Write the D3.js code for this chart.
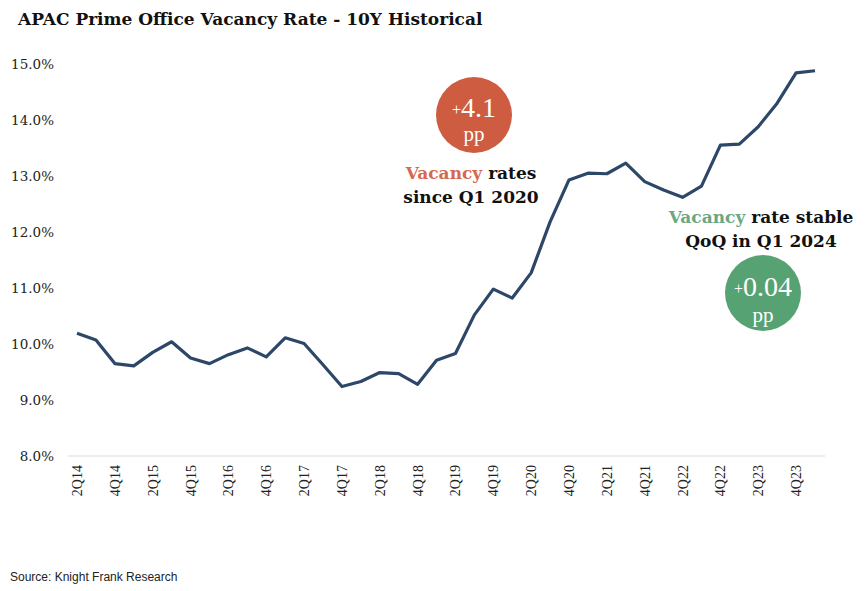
<!DOCTYPE html>
<html>
<head>
<meta charset="utf-8">
<script src="https://cdn.jsdelivr.net/npm/d3@7"></script>
<style>
body{margin:0;background:#fff;}
</style>
</head>
<body>
<div id="chart"></div>
<script>
// quarters from 2Q14 to 1Q24
var quarters = ["2Q14","3Q14","4Q14","1Q15","2Q15","3Q15","4Q15","1Q16","2Q16","3Q16","4Q16",
	"1Q17","2Q17","3Q17","4Q17","1Q18","2Q18","3Q18","4Q18","1Q19","2Q19","3Q19","4Q19",
	"1Q20","2Q20","3Q20","4Q20","1Q21","2Q21","3Q21","4Q21","1Q22","2Q22","3Q22","4Q22",
	"1Q23","2Q23","3Q23","4Q23","1Q24"];
var vacancy = [10.19,10.07,9.65,9.61,9.85,10.04,9.75,9.65,9.81,9.93,9.77,
	10.11,10.01,9.63,9.24,9.33,9.49,9.47,9.28,9.71,9.83,10.52,10.98,
	10.82,11.27,12.18,12.93,13.05,13.04,13.23,12.90,12.75,12.62,12.82,13.55,
	13.57,13.88,14.30,14.84,14.88];
var yTicks = [8,9,10,11,12,13,14,15];

var W = 867, H = 591;
var svg = d3.select("#chart").append("svg")
	.attr("width", W)
	.attr("height", H);

var x = d3.scalePoint().domain(quarters).range([77, 815]);
var y = d3.scaleLinear().domain([8, 15]).range([456, 64]);

var serif = "'Liberation Serif', 'DejaVu Serif', serif";
var wide = "'DejaVu Serif', 'Liberation Serif', serif"; // closer to Georgia width

// title
svg.append("text")
	.attr("x", 18).attr("y", 25)
	.attr("font-family", wide)
	.attr("font-weight", "bold")
	.attr("font-size", 17)
	.attr("fill", "#111")
	.text("APAC Prime Office Vacancy Rate - 10Y Historical");

// y axis labels
svg.selectAll(".ylab")
	.data(yTicks)
	.enter().append("text")
	.attr("x", 54)
	.attr("y", function(d){ return y(d); })
	.attr("dy", "0.35em")
	.attr("text-anchor", "end")
	.attr("font-family", wide)
	.attr("font-size", 13.5)
	.attr("fill", "#222")
	.text(function(d){ return d.toFixed(1) + "%"; });

// baseline
svg.append("line")
	.attr("x1", 68).attr("x2", 825)
	.attr("y1", y(8)).attr("y2", y(8))
	.attr("stroke", "#d9d9d9").attr("stroke-width", 1);

// x labels, every other quarter
var xl = quarters.filter(function(d, i){ return i % 2 == 0; });
svg.selectAll(".xlab")
	.data(xl)
	.enter().append("text")
	.attr("transform", function(d){ return "translate(" + (x(d) + 5) + ",465) rotate(-90)"; })
	.attr("text-anchor", "end")
	.attr("font-family", serif)
	.attr("font-size", 14)
	.attr("fill", "#222")
	.text(function(d){ return d; });

// the line
var line = d3.line()
	.x(function(d, i){ return x(quarters[i]); })
	.y(function(d){ return y(d); });

svg.append("path")
	.datum(vacancy)
	.attr("d", line)
	.attr("fill", "none")
	.attr("stroke", "#2d4768")
	.attr("stroke-width", 3.2)
	.attr("stroke-linejoin", "round");

// annotation bubbles
function bubble(cx, cy, col, big, numY, ppY){
	svg.append("circle")
		.attr("cx", cx).attr("cy", cy).attr("r", 38)
		.attr("fill", col);
	var t = svg.append("text")
		.attr("x", cx).attr("y", cy + numY)
		.attr("text-anchor", "middle")
		.attr("font-family", serif)
		.attr("fill", "#fff");
	t.append("tspan").attr("font-size", 16).attr("dy", "-0.15em").text("+");
	t.append("tspan").attr("font-size", 28).attr("dy", "0.08em").text(big);
	svg.append("text")
		.attr("x", cx).attr("y", cy + ppY)
		.attr("text-anchor", "middle")
		.attr("font-family", serif)
		.attr("font-size", 21)
		.attr("fill", "#fff")
		.text("pp");
}

bubble(474, 115, "#cd5c40", "4.1", 2, 26);
bubble(763, 293, "#57a272", "0.04", 3, 29);

function note(cx, cy, word, col, rest, line2){
	var t = svg.append("text")
		.attr("x", cx).attr("y", cy)
		.attr("text-anchor", "middle")
		.attr("font-family", wide)
		.attr("font-weight", "bold")
		.attr("font-size", 17)
		.attr("fill", "#111");
	t.append("tspan").attr("fill", col).text(word);
	t.append("tspan").text(rest);
	svg.append("text")
		.attr("x", cx).attr("y", cy + 24)
		.attr("text-anchor", "middle")
		.attr("font-family", wide)
		.attr("font-weight", "bold")
		.attr("font-size", 17)
		.attr("fill", "#111")
		.text(line2);
}

note(471, 179, "Vacancy", "#d4694f", " rates", "since Q1 2020");
note(761, 223, "Vacancy", "#6aa882", " rate stable", "QoQ in Q1 2024");

// source
svg.append("text")
	.attr("x", 10).attr("y", 581)
	.attr("font-family", "'Liberation Sans', Arial, sans-serif")
	.attr("font-size", 12)
	.attr("fill", "#222")
	.text("Source: Knight Frank Research");
</script>
</body>
</html>
